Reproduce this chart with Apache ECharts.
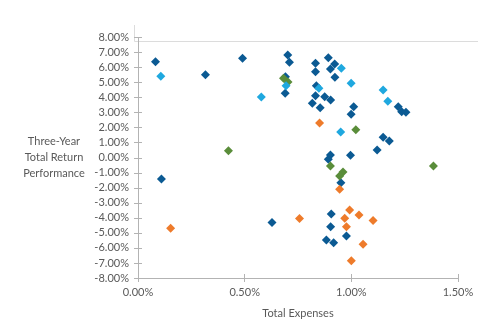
<!DOCTYPE html>
<html>
<head>
<meta charset="utf-8">
<script src="https://cdn.jsdelivr.net/npm/echarts@6/dist/echarts.min.js"></script>
<style>
  html, body { margin: 0; padding: 0; background: #ffffff; }
  #chart { width: 500px; height: 333px; }
</style>
</head>
<body>
<div id="chart"></div>
<script>
// Fund points: [total expenses %, three-year total return %]
const darkBlue = [
  [0.082, 6.39], [0.316, 5.53], [0.490, 6.62], [0.702, 6.84], [0.710, 6.35],
  [0.691, 5.39], [0.690, 4.29], [0.832, 6.28], [0.832, 5.72], [0.892, 6.66],
  [0.922, 6.24], [0.902, 5.90], [0.923, 5.35], [0.836, 4.79], [0.832, 4.13],
  [0.875, 4.06], [0.903, 3.84], [0.817, 3.62], [0.854, 3.33], [1.011, 3.40],
  [0.999, 2.89], [1.220, 3.40], [1.236, 3.06], [1.256, 3.02], [1.149, 1.36],
  [1.178, 1.11], [1.121, 0.52], [0.902, 0.18], [0.892, -0.10], [0.996, 0.16],
  [0.951, -1.66], [0.110, -1.41], [0.628, -4.30], [0.906, -3.74], [0.903, -4.59],
  [0.977, -5.21], [0.883, -5.47], [0.917, -5.65]
];
const greenPts = [
  [0.682, 5.29], [0.703, 5.04], [0.424, 0.47], [1.021, 1.87], [0.902, -0.55],
  [0.961, -0.95], [0.945, -1.21], [1.385, -0.55]
];
const lightBlue = [
  [0.107, 5.42], [0.578, 4.04], [0.694, 4.79], [0.953, 5.95], [0.999, 4.95],
  [0.848, 4.62], [0.950, 1.71], [1.149, 4.51], [1.171, 3.76]
];
const orangePts = [
  [0.851, 2.31], [0.945, -2.10], [0.153, -4.69], [0.757, -4.04], [0.992, -3.48],
  [1.036, -3.81], [0.969, -4.03], [1.102, -4.18], [0.977, -4.59], [1.055, -5.76],
  [1.000, -6.85]
];

const xTicks = { min: 0, max: 1.5, step: 0.5 };
const yTicks = { min: -8, max: 8, step: 1 };
const xTitle = 'Total Expenses';
const yTitle = 'Three-Year\nTotal Return\nPerformance';

const FONT = 'Lato';
const TEXT = '#595959';
const AXIS = '#b3b3b3';
const pct = v => v.toFixed(2) + '%';

function scatter(name, data, color) {
  return {
    name, type: 'scatter', data,
    xAxisIndex: 0, yAxisIndex: 0,
    symbol: 'diamond', symbolSize: 9,
    itemStyle: { color, opacity: 1 },
    emphasis: { disabled: true }
  };
}

const chart = echarts.init(document.getElementById('chart'), null, { renderer: 'canvas' });
chart.setOption({
  animation: false,
  backgroundColor: '#ffffff',
  textStyle: { fontFamily: FONT },
  grid: { left: 138, right: 42, top: 37.5, bottom: 55, containLabel: false },
  xAxis: [
    {
      type: 'value', position: 'bottom',
      min: xTicks.min, max: xTicks.max, interval: xTicks.step,
      axisLine: { show: true, onZero: false, lineStyle: { color: AXIS, width: 1 } },
      axisTick: { show: true, inside: false, length: 4, lineStyle: { color: AXIS } },
      axisLabel: { color: TEXT, fontSize: 11, fontFamily: FONT, margin: 9, formatter: pct },
      splitLine: { show: false },
      name: xTitle, nameLocation: 'middle', nameGap: 35,
      nameTextStyle: { color: TEXT, fontSize: 11, fontFamily: FONT, verticalAlign: 'middle' }
    },
    {
      type: 'value', position: 'bottom',
      min: xTicks.min, max: xTicks.max, interval: xTicks.step,
      axisLine: { show: false, onZero: false },
      axisTick: { show: true, inside: true, length: 4, lineStyle: { color: AXIS } },
      axisLabel: { show: false },
      splitLine: { show: false }
    }
  ],
  yAxis: [
    {
      type: 'value', position: 'left',
      min: yTicks.min, max: yTicks.max, interval: yTicks.step,
      axisLine: { show: true, onZero: false, lineStyle: { color: AXIS, width: 1 } },
      axisTick: { show: true, inside: false, length: 4, lineStyle: { color: AXIS } },
      axisLabel: { color: TEXT, fontSize: 11, fontFamily: FONT, margin: 9, formatter: pct },
      splitLine: { show: false },
      name: yTitle, nameLocation: 'middle', nameGap: 84, nameRotate: 0,
      nameTextStyle: {
        color: TEXT, fontSize: 11, fontFamily: FONT,
        align: 'center', verticalAlign: 'middle', lineHeight: 16
      }
    },
    {
      type: 'value', position: 'left',
      min: yTicks.min, max: yTicks.max, interval: yTicks.step,
      axisLine: { show: false, onZero: false },
      axisTick: { show: true, inside: true, length: 4, lineStyle: { color: AXIS } },
      axisLabel: { show: false },
      splitLine: { show: false }
    }
  ],
  graphic: [
    {
      type: 'polyline', silent: true,
      shape: { points: [[134.5, 25], [134.5, 41.5], [478, 41.5]] },
      style: { stroke: '#dcdcdc', lineWidth: 1, fill: null }
    }
  ],
  series: [
    scatter('Dark', darkBlue, '#0b5a93'),
    scatter('Green', greenPts, '#5a8d3a'),
    scatter('Light', lightBlue, '#1fa8df'),
    scatter('Orange', orangePts, '#ee7b2b')
  ]
});
</script>
</body>
</html>
